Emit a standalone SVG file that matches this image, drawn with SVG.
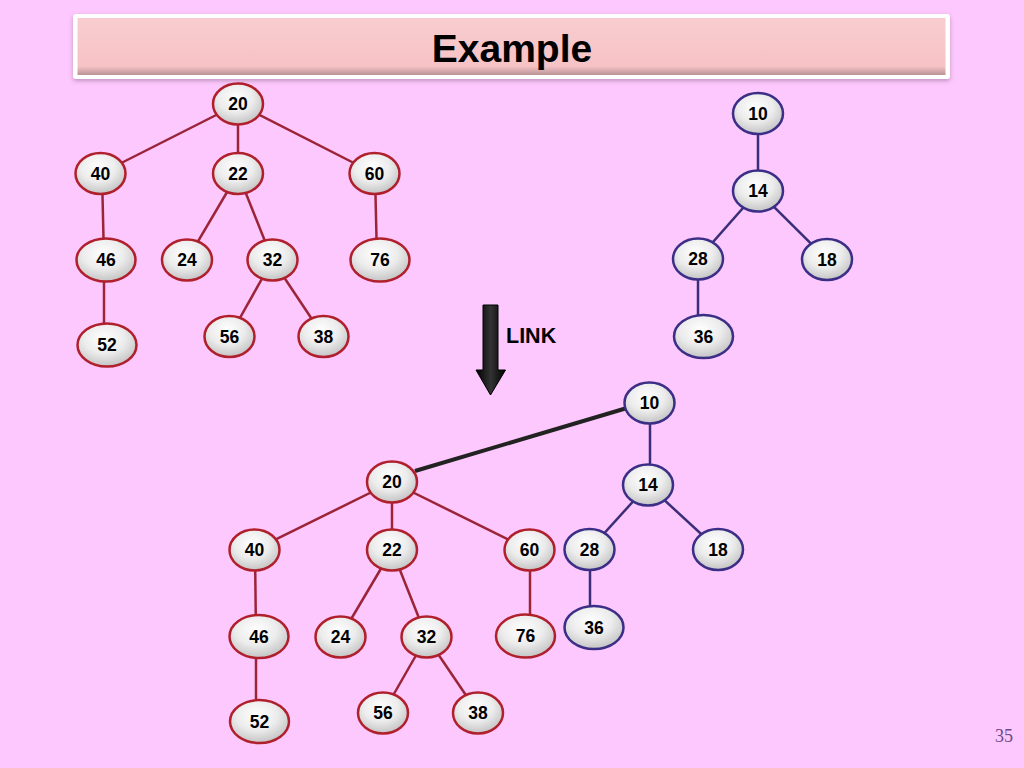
<svg xmlns="http://www.w3.org/2000/svg" width="1024" height="768" viewBox="0 0 1024 768">
<defs>
<radialGradient id="nf" cx="0.45" cy="0.35" r="0.7">
<stop offset="0" stop-color="#ffffff"/>
<stop offset="0.5" stop-color="#ececec"/>
<stop offset="1" stop-color="#bdbdbd"/>
</radialGradient>
<linearGradient id="tb" x1="0" y1="0" x2="0" y2="1">
<stop offset="0" stop-color="#f9cdd0"/>
<stop offset="0.85" stop-color="#f6c2c5"/>
<stop offset="1" stop-color="#b79497"/>
</linearGradient>
<linearGradient id="ar" x1="0" y1="0" x2="1" y2="0">
<stop offset="0" stop-color="#000"/>
<stop offset="0.5" stop-color="#333"/>
<stop offset="1" stop-color="#000"/>
</linearGradient>
<filter id="sh" x="-5%" y="-20%" width="110%" height="150%">
<feDropShadow dx="0" dy="2" stdDeviation="2" flood-color="#806080" flood-opacity="0.5"/>
</filter>
</defs>
<style>
.n ellipse{fill:url(#nf);stroke-width:2.5}
.r ellipse{stroke:#b01f2c}
.b ellipse{stroke:#3b2e86}
.n text{font-family:"Liberation Sans",Arial,sans-serif;font-weight:bold;font-size:17.5px;text-anchor:middle;fill:#000}
.er line{stroke:#9c2438;stroke-width:2.5}
.eb line{stroke:#3b2e78;stroke-width:2.5}
</style>
<rect x="0" y="0" width="1024" height="768" fill="#fdc8fd"/>
<g id="title">
<rect x="73" y="14" width="877" height="65" rx="3" fill="#ffffff" filter="url(#sh)"/>
<rect x="77.500" y="18" width="868" height="57" fill="url(#tb)"/>
<text x="512" y="62" font-family="Liberation Sans,Arial,sans-serif" font-weight="bold" font-size="39" text-anchor="middle" fill="#000">Example</text>
</g>
<g id="connectors">
<g class="er">
<line x1="238" y1="104" x2="100.5" y2="173.5"/>
<line x1="238" y1="104" x2="238" y2="173.5"/>
<line x1="238" y1="104" x2="374.5" y2="173.5"/>
<line x1="102" y1="173.5" x2="104" y2="260"/>
<line x1="238" y1="173.5" x2="187" y2="260"/>
<line x1="238" y1="173.5" x2="272.5" y2="260"/>
<line x1="375" y1="173.5" x2="377" y2="260"/>
<line x1="104" y1="260" x2="104" y2="345"/>
<line x1="272.5" y1="260" x2="229.5" y2="336.5"/>
<line x1="272.5" y1="260" x2="323.5" y2="336.5"/>
<line x1="392" y1="482" x2="254.5" y2="550"/>
<line x1="392" y1="482" x2="392" y2="550"/>
<line x1="392" y1="482" x2="529.5" y2="550"/>
<line x1="255" y1="550" x2="256" y2="636.5"/>
<line x1="392" y1="550" x2="340.5" y2="637"/>
<line x1="392" y1="550" x2="426.5" y2="637"/>
<line x1="530" y1="550" x2="530" y2="636"/>
<line x1="256" y1="636.5" x2="256" y2="721.5"/>
<line x1="426.500" y1="637" x2="383" y2="713"/>
<line x1="426.500" y1="637" x2="478" y2="713"/>
</g>
<g class="eb">
<line x1="758" y1="113.5" x2="758" y2="191"/>
<line x1="758" y1="191" x2="698" y2="259"/>
<line x1="758" y1="191" x2="827" y2="259.5"/>
<line x1="698" y1="259" x2="698" y2="336.5"/>
<line x1="650" y1="403" x2="650" y2="485"/>
<line x1="648" y1="485" x2="589.5" y2="549.5"/>
<line x1="648" y1="485" x2="718" y2="549.5"/>
<line x1="590" y1="549.5" x2="590" y2="627.5"/>
</g>
<line id="link-edge" x1="415" y1="471" x2="627" y2="408" stroke="#222" stroke-width="4"/>
</g>
<g id="link-arrow">
<path d="M483,305 H498 V370 H505.500 L490.500,395 L476,370 H483 Z" fill="url(#ar)" stroke="#000" stroke-width="1"/>
<text x="506" y="343" font-family="Liberation Sans,Arial,sans-serif" font-weight="bold" font-size="21.500" fill="#000">LINK</text>
</g>
<g id="n20a" class="n r"><ellipse cx="238" cy="104" rx="25" ry="20.5"/><text x="238" y="110">20</text></g>
<g id="n40a" class="n r"><ellipse cx="100.5" cy="173.5" rx="25" ry="20.5"/><text x="100.5" y="179.5">40</text></g>
<g id="n22a" class="n r"><ellipse cx="238" cy="173.5" rx="25" ry="20.5"/><text x="238" y="179.5">22</text></g>
<g id="n60a" class="n r"><ellipse cx="374.5" cy="173.5" rx="25" ry="20.5"/><text x="374.5" y="179.5">60</text></g>
<g id="n46a" class="n r"><ellipse cx="106" cy="260" rx="29.5" ry="21.5"/><text x="106" y="266">46</text></g>
<g id="n24a" class="n r"><ellipse cx="187" cy="260" rx="25" ry="20.5"/><text x="187" y="266">24</text></g>
<g id="n32a" class="n r"><ellipse cx="272.5" cy="260" rx="25" ry="20.5"/><text x="272.5" y="266">32</text></g>
<g id="n76a" class="n r"><ellipse cx="380" cy="260" rx="29.5" ry="21.5"/><text x="380" y="266">76</text></g>
<g id="n52a" class="n r"><ellipse cx="107" cy="345" rx="29.5" ry="21.5"/><text x="107" y="351">52</text></g>
<g id="n56a" class="n r"><ellipse cx="229.5" cy="336.5" rx="25" ry="20.5"/><text x="229.5" y="342.5">56</text></g>
<g id="n38a" class="n r"><ellipse cx="323.5" cy="336.5" rx="25" ry="20.5"/><text x="323.5" y="342.5">38</text></g>
<g id="n10a" class="n b"><ellipse cx="758" cy="113.5" rx="25" ry="20.5"/><text x="758" y="119.5">10</text></g>
<g id="n14a" class="n b"><ellipse cx="758" cy="191" rx="25" ry="20.5"/><text x="758" y="197">14</text></g>
<g id="n28a" class="n b"><ellipse cx="698" cy="259" rx="25" ry="20.5"/><text x="698" y="265">28</text></g>
<g id="n18a" class="n b"><ellipse cx="827" cy="259.5" rx="25" ry="20.5"/><text x="827" y="265.5">18</text></g>
<g id="n36a" class="n b"><ellipse cx="703.5" cy="336.5" rx="29.5" ry="21.5"/><text x="703.5" y="342.5">36</text></g>
<g id="n20b" class="n r"><ellipse cx="392" cy="482" rx="25" ry="20.5"/><text x="392" y="488">20</text></g>
<g id="n40b" class="n r"><ellipse cx="254.5" cy="550" rx="25" ry="20.5"/><text x="254.5" y="556">40</text></g>
<g id="n22b" class="n r"><ellipse cx="392" cy="550" rx="25" ry="20.5"/><text x="392" y="556">22</text></g>
<g id="n60b" class="n r"><ellipse cx="529.5" cy="550" rx="25" ry="20.5"/><text x="529.5" y="556">60</text></g>
<g id="n46b" class="n r"><ellipse cx="259" cy="636.5" rx="29.5" ry="21.5"/><text x="259" y="642.5">46</text></g>
<g id="n24b" class="n r"><ellipse cx="340.5" cy="637" rx="25" ry="20.5"/><text x="340.5" y="643">24</text></g>
<g id="n32b" class="n r"><ellipse cx="426.5" cy="637" rx="25" ry="20.5"/><text x="426.5" y="643">32</text></g>
<g id="n76b" class="n r"><ellipse cx="525.5" cy="636" rx="29.5" ry="21.5"/><text x="525.5" y="642">76</text></g>
<g id="n52b" class="n r"><ellipse cx="259.5" cy="721.5" rx="29.5" ry="21.5"/><text x="259.5" y="727.5">52</text></g>
<g id="n56b" class="n r"><ellipse cx="383" cy="713" rx="25" ry="20.5"/><text x="383" y="719">56</text></g>
<g id="n38b" class="n r"><ellipse cx="478" cy="713" rx="25" ry="20.5"/><text x="478" y="719">38</text></g>
<g id="n10b" class="n b"><ellipse cx="649.5" cy="403" rx="25" ry="20.5"/><text x="649.5" y="409">10</text></g>
<g id="n14b" class="n b"><ellipse cx="648" cy="485" rx="25" ry="20.5"/><text x="648" y="491">14</text></g>
<g id="n28b" class="n b"><ellipse cx="589.5" cy="549.5" rx="25" ry="20.5"/><text x="589.5" y="555.5">28</text></g>
<g id="n18b" class="n b"><ellipse cx="718" cy="549.5" rx="25" ry="20.5"/><text x="718" y="555.5">18</text></g>
<g id="n36b" class="n b"><ellipse cx="594" cy="627.5" rx="29.5" ry="21.5"/><text x="594" y="633.5">36</text></g>
<text id="page" x="1013" y="742" font-family="Liberation Serif,Times New Roman,serif" font-size="18" text-anchor="end" fill="#6a4a8a">35</text>
</svg>
